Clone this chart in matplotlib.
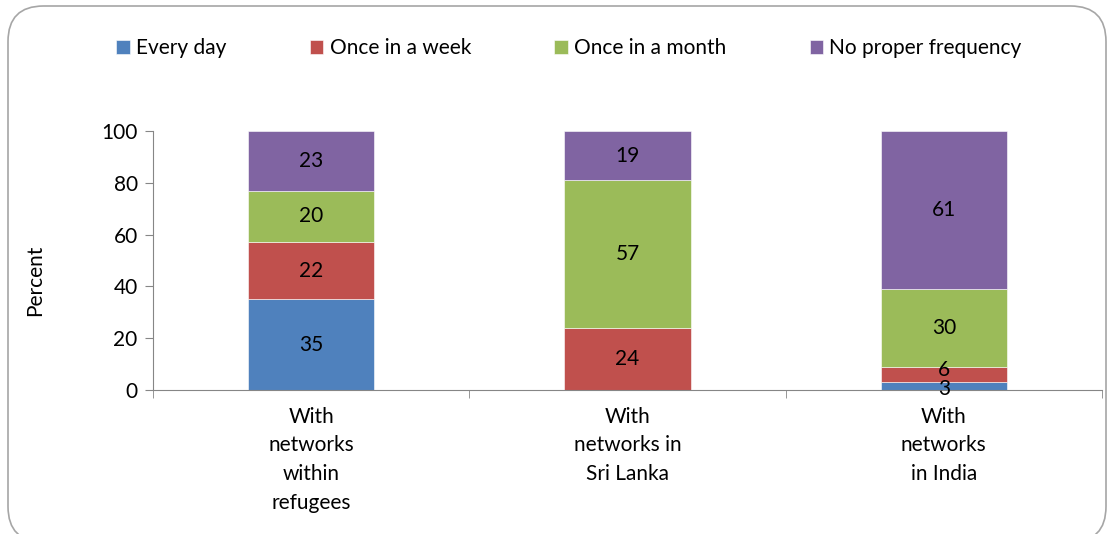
import numpy as np
import matplotlib.pyplot as plt
from matplotlib.patches import FancyBboxPatch

plt.rcParams['font.family'] = ['Lato', 'DejaVu Sans']

categories = ['With\nnetworks\nwithin\nrefugees', 'With\nnetworks in\nSri Lanka', 'With\nnetworks\nin India']
series = ['Every day', 'Once in a week', 'Once in a month', 'No proper frequency']
every_day = [35, 0, 3]
once_week = [22, 24, 6]
once_month = [20, 57, 30]
no_freq = [23, 19, 61]
colors = ['#4f81bd', '#c0504d', '#9bbb59', '#8064a2']

fs = 15
fig = plt.figure(figsize=(11.1, 5.34), dpi=100)
ax = fig.add_axes([153/1110, 1-390/534, (1102-153)/1110, (390-131)/534])

# rounded chart frame (bottom edge runs just past the picture)
frame = FancyBboxPatch((8/1110, -8/534), 1098/1110, 1 - 6/534 + 8/534,
                       boxstyle='round,pad=0,rounding_size=0.032',
                       transform=fig.transFigure, fill=False,
                       edgecolor='#a6a6a6', linewidth=1.2, mutation_aspect=1110/534)
fig.patches.append(frame)

x = np.arange(len(categories))
bottom = np.zeros(len(categories))
for name, vals, c in zip(series, [every_day, once_week, once_month, no_freq], colors):
    vals = np.array(vals, dtype=float)
    ax.bar(x, vals, 0.4, bottom=bottom, color=c, label=name, edgecolor='white', linewidth=0.4)
    for xi, v, b in zip(x, vals, bottom):
        if v > 0:
            y = b + v / 2
            # small segments: nudge labels apart like Excel does
            if v < 5:
                y -= 1.2
            elif v < 10:
                y += 1.8
            ax.text(xi, y, str(int(v)), ha='center', va='center', fontsize=fs, color='black')
    bottom += vals

ax.set_xlim(-0.5, 2.5)
ax.set_ylim(0, 100)
ax.set_yticks(range(0, 101, 20))
ax.set_xticks(x)
ax.set_xticklabels(categories, fontsize=fs, linespacing=1.55)
ax.tick_params(axis='x', length=0, pad=12)
ax.set_xticks([-0.5, 0.5, 1.5, 2.5], minor=True)
ax.tick_params(axis='x', which='minor', length=6, direction='out', color='#868686')
ax.tick_params(axis='y', labelsize=fs, length=6, direction='out', color='#868686', pad=5)
for s in ['top', 'right']:
    ax.spines[s].set_visible(False)
for s in ['left', 'bottom']:
    ax.spines[s].set_color('#868686')
ax.set_ylabel('Percent', fontsize=fs)
ax.yaxis.set_label_coords(-0.114, 0.425)

fig.legend(loc='center', bbox_to_anchor=(569/1110, 1-48/534), ncol=4, frameon=False,
           fontsize=fs, handlelength=0.65, handleheight=0.65, handletextpad=0.3, columnspacing=4.0)

fig.savefig('out.png', dpi=100)
